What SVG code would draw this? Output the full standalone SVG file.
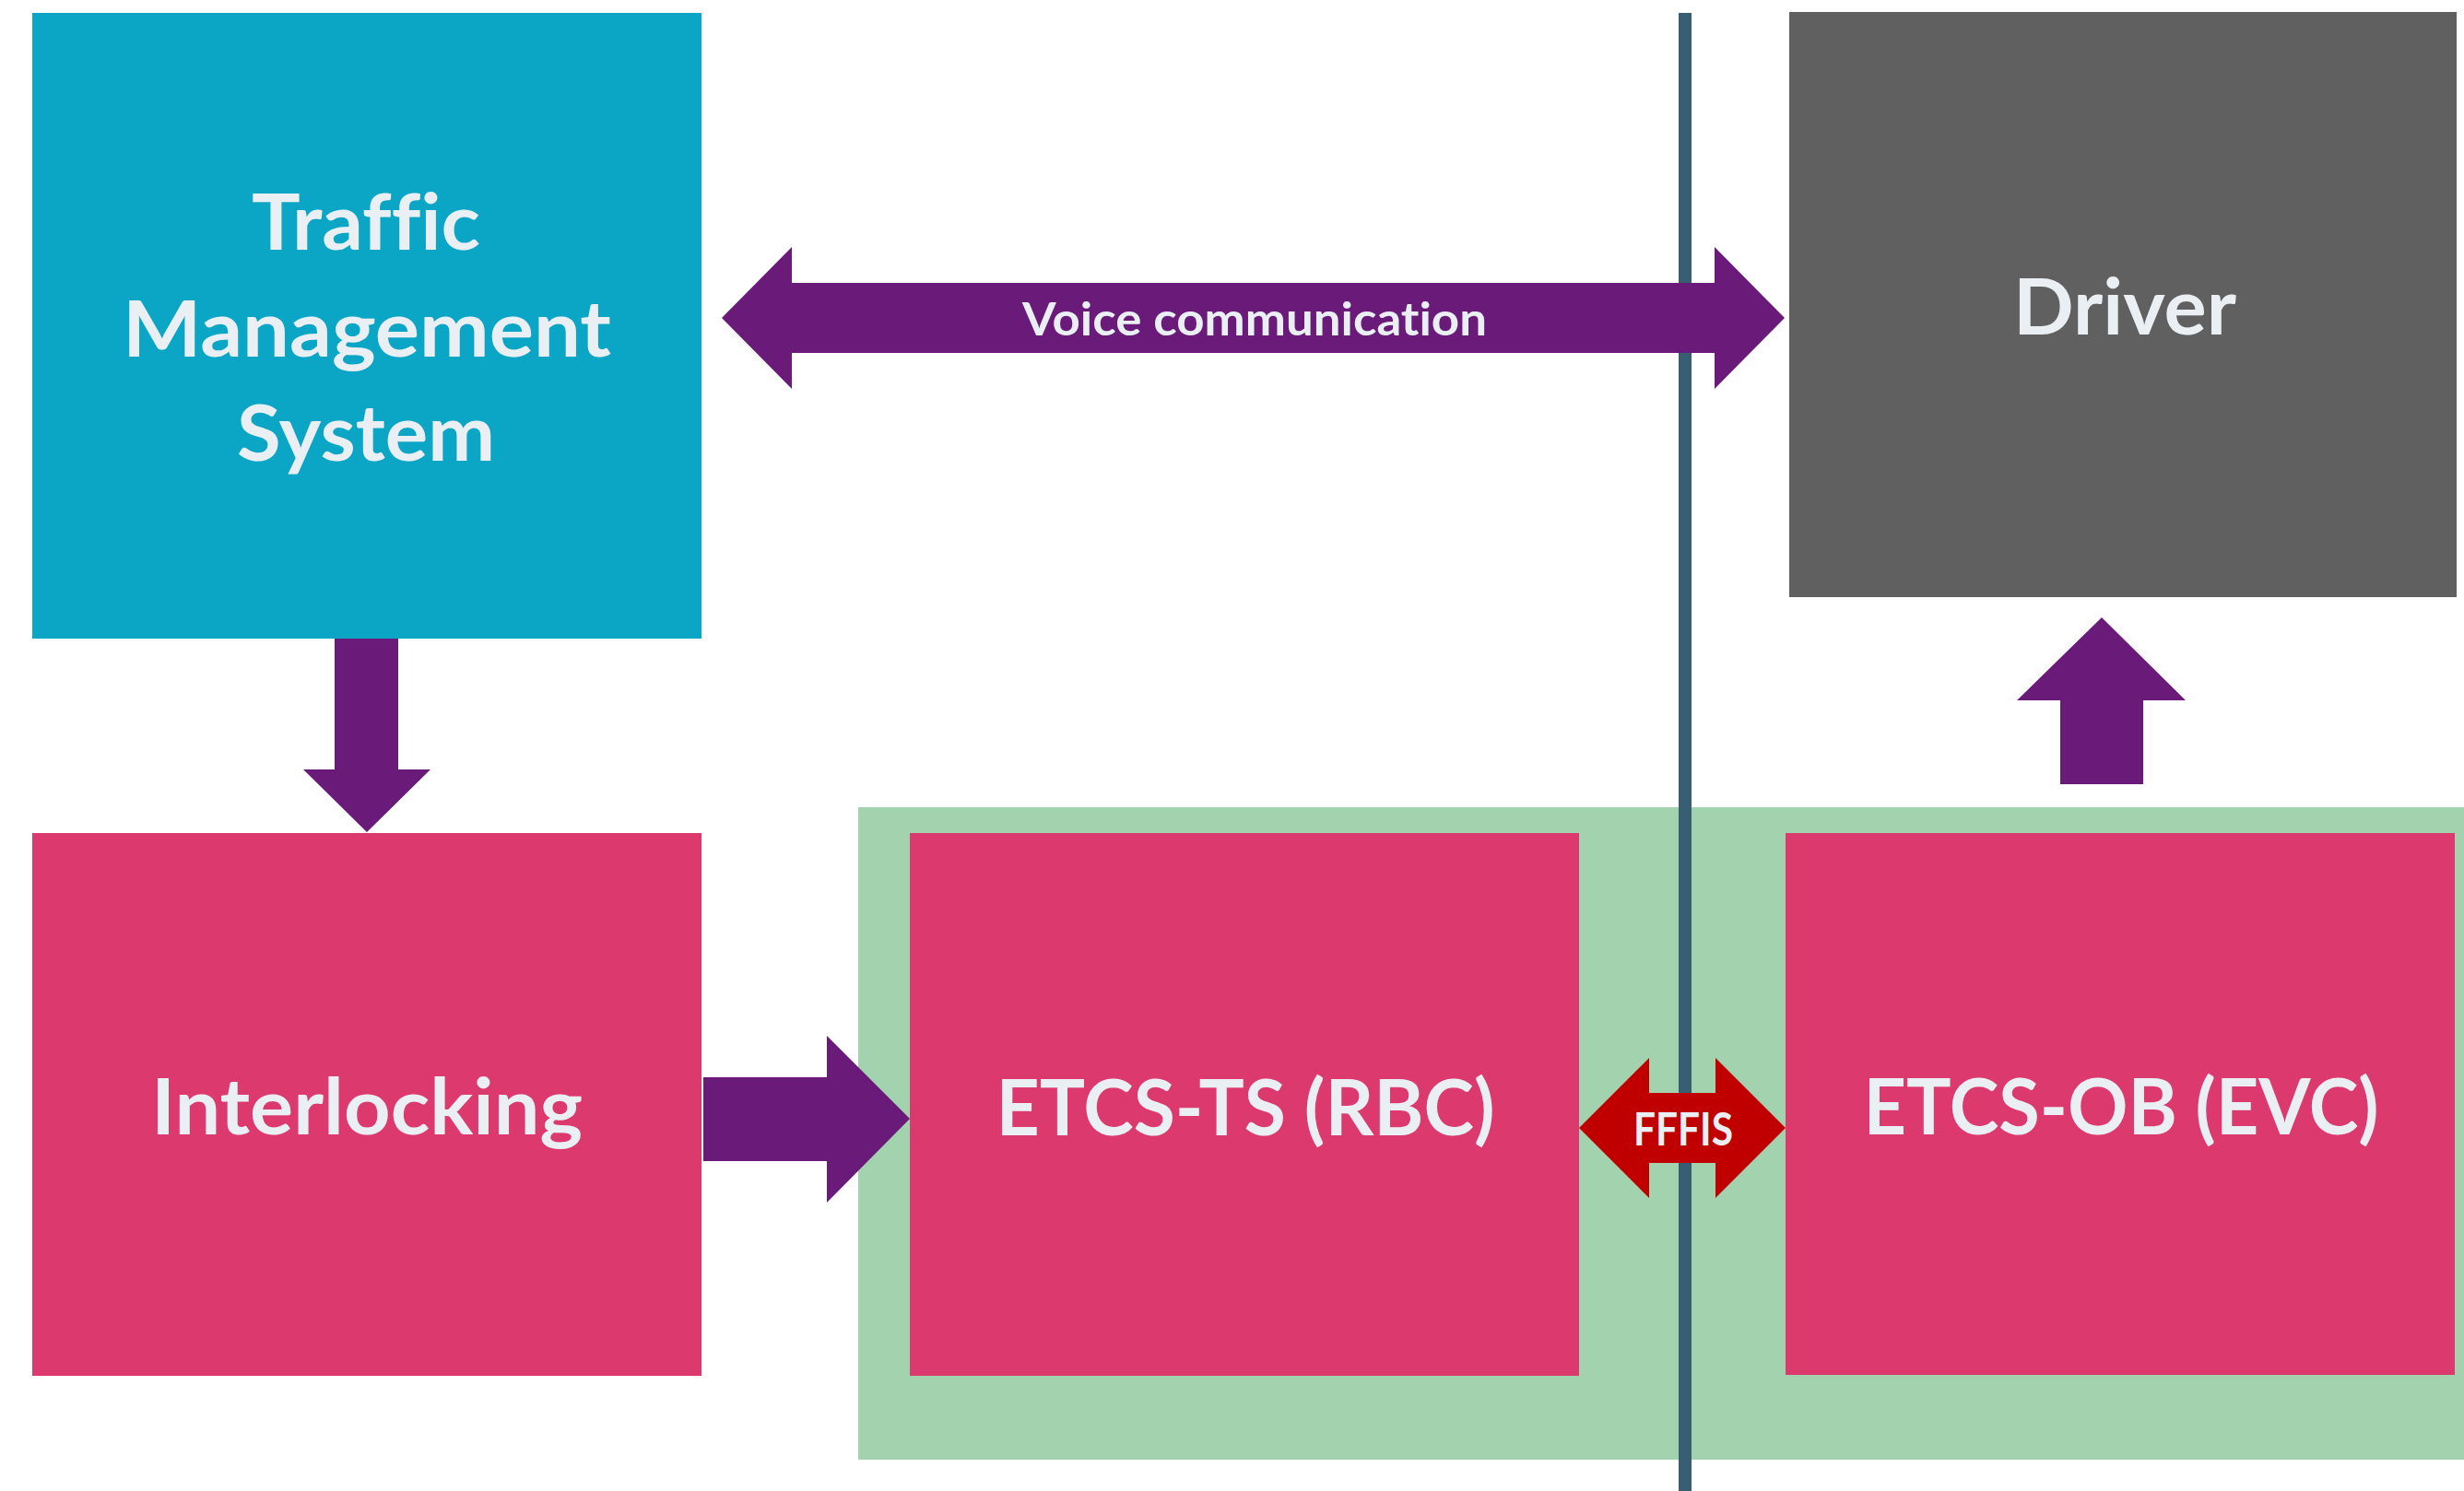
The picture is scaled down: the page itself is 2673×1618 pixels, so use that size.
<svg xmlns="http://www.w3.org/2000/svg" width="2673" height="1618" viewBox="0 0 2673 1618">
  <style>
    .lbl { font-family: Lato, "Open Sans", "Liberation Sans", sans-serif; font-weight: 700; fill: #E9EFF3; text-anchor: middle; font-variant-ligatures: none; font-feature-settings: "liga" 0, "dlig" 0; }
    .big { font-size: 84px; }
    .mid { font-size: 50px; }
    .arrow { fill: #6A1B7A; }
    .iface { fill: #C00000; }
  </style>
  <rect x="0" y="0" width="2673" height="1618" fill="#FFFFFF"/>

  <!-- ETCS zone background -->
  <rect id="etcs-zone" x="931" y="876" width="1742" height="708" fill="#A2D3AE"/>

  <!-- track / train boundary -->
  <line id="boundary" x1="1828" y1="14" x2="1828" y2="1618" stroke="#385E74" stroke-width="14"/>

  <g id="tms">
    <rect x="35" y="14" width="726" height="679" fill="#0BA6C6"/>
    <text class="lbl big" x="397" y="271" textLength="248" lengthAdjust="spacingAndGlyphs">Traffic</text>
    <text class="lbl big" x="398" y="387" textLength="530" lengthAdjust="spacingAndGlyphs">Management</text>
    <text class="lbl big" x="397" y="500" textLength="280" lengthAdjust="spacingAndGlyphs">System</text>
  </g>

  <g id="driver">
    <rect x="1941" y="13" width="724" height="635" fill="#606060"/>
    <text class="lbl big" x="2305" y="363" textLength="242" lengthAdjust="spacingAndGlyphs">Driver</text>
  </g>

  <g id="interlocking">
    <rect x="35" y="904" width="726" height="589" fill="#DC3A6E"/>
    <text class="lbl big" x="398" y="1231" textLength="468" lengthAdjust="spacingAndGlyphs">Interlocking</text>
  </g>

  <g id="etcs-ts">
    <rect x="987" y="904" width="726" height="589" fill="#DC3A6E"/>
    <text class="lbl big" x="1351" y="1232" textLength="541" lengthAdjust="spacingAndGlyphs">ETCS-TS (RBC)</text>
  </g>

  <g id="etcs-ob">
    <rect x="1937" y="904" width="726" height="588" fill="#DC3A6E"/>
    <text class="lbl big" x="2301" y="1231" textLength="559" lengthAdjust="spacingAndGlyphs">ETCS-OB (EVC)</text>
  </g>

  <g id="connectors">
    <!-- voice communication, TMS <-> driver -->
    <polygon class="arrow" points="783,345 859,268 859,307 1860,307 1860,268 1936,345 1860,422 1860,383 859,383 859,422"/>
    <text class="lbl mid" x="1361" y="364" textLength="504" lengthAdjust="spacingAndGlyphs">Voice communication</text>
    <!-- TMS -> interlocking -->
    <polygon class="arrow" points="363,693 432,693 432,835 467,835 398,903 329,835 363,835"/>
    <!-- interlocking -> RBC -->
    <polygon class="arrow" points="763,1169 897,1169 897,1124 987,1214 897,1305 897,1260 763,1260"/>
    <!-- EVC -> driver -->
    <polygon class="arrow" points="2235,851 2235,760 2188,760 2280,670 2371,760 2325,760 2325,851"/>
    <!-- FFFIS interface, RBC <-> EVC -->
    <polygon class="iface" points="1713,1224 1789,1148 1789,1186 1861,1186 1861,1148 1937,1224 1861,1300 1861,1262 1789,1262 1789,1300"/>
    <text class="lbl" x="1826" y="1243" font-size="49" textLength="108" lengthAdjust="spacingAndGlyphs">FFFIS</text>
  </g>
</svg>
